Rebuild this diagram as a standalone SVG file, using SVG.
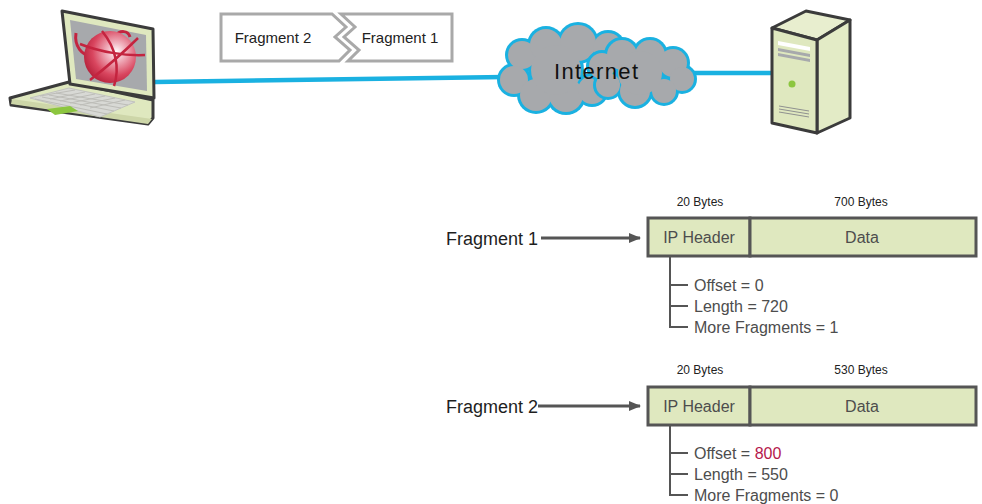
<svg xmlns="http://www.w3.org/2000/svg" width="982" height="504" viewBox="0 0 982 504">
  <defs>
    <radialGradient id="sphere" cx="0.62" cy="0.4" r="0.65">
      <stop offset="0" stop-color="#ffffff"/>
      <stop offset="0.25" stop-color="#f2b8c4"/>
      <stop offset="0.7" stop-color="#d9465f"/>
      <stop offset="1" stop-color="#b8233d"/>
    </radialGradient>
    <marker id="arrow" viewBox="0 0 12 10" refX="11" refY="5" markerWidth="12" markerHeight="10" markerUnits="userSpaceOnUse" orient="auto">
      <path d="M0,0 L12,5 L0,10 Z" fill="#555"/>
    </marker>
  </defs>
  <style>
    .sans { font-family: "Liberation Sans", Arial, sans-serif; }
    .wire { stroke: #1ab1e1; stroke-width: 4.5; fill: none; }
    .frag { fill: #fff; stroke: #a9a9a9; stroke-width: 3; }
    .cloud-edge { fill: #1ab1e1; }
    .cloud-fill { fill: #a7a9ac; }
    .hw { stroke: #3b3b3b; stroke-width: 3; stroke-linejoin: round; }
    .cell { fill: #dfe8bf; stroke: #555; stroke-width: 3; }
    .cell-text { font-size: 16px; fill: #4d4d4d; text-anchor: middle; }
    .bytes { font-size: 12px; fill: #222; text-anchor: middle; }
    .label { font-size: 18px; fill: #1e1e1e; }
    .tree { stroke: #555; stroke-width: 2; fill: none; }
    .field { font-size: 16px; fill: #4d4d4d; }
    .link { stroke: #555; stroke-width: 3; fill: none; }
  </style>

  <rect width="982" height="504" fill="#fff"/>

  <!-- network wires -->
  <g id="connectors">
    <path class="wire" d="M155,82 L505,77"/>
    <path class="wire" d="M688,73 L772,73"/>
    <path class="link" d="M541,238 H640" marker-end="url(#arrow)"/>
    <path class="link" d="M538,406 H640" marker-end="url(#arrow)"/>
  </g>

  <!-- laptop -->
  <g id="laptop">
    <polygon class="hw" points="10,98 69,82 153,100 153,118 148,124 11,105" fill="#dfe8bf"/>
    <polygon points="11,104 148,124 152,119 12,99" fill="#cdd6a8"/>
    <polygon points="30,98 69,88 135,102 100,117" fill="#d8d9d5" stroke="#c2c3bf" stroke-width="1"/>
    <g stroke="#bdbdb8" stroke-width="1">
      <path d="M35,99 L107,114 M42,97 L114,111 M49,95 L121,108 M56,93 L128,105"/>
      <path d="M40,96 L75,90 M50,99 L85,92 M60,101 L95,94 M70,103 L105,96 M80,105 L115,98 M90,108 L125,100"/>
    </g>
    <polygon points="47,109 70,106 78,111 55,115" fill="#8cc63f"/>
    <polygon class="hw" points="62,11 153,29 154,98 70,84" fill="#dfe8bf"/>
    <polygon points="70,20 146,35 147,91 76,79" fill="#a7a9ac"/>
    <g id="globe">
      <path d="M76,33 C74,46 82,56 92,56" stroke="#c4243f" stroke-width="3" fill="none"/>
      <path d="M115,36 C120,30 128,30 130,37" stroke="#c4243f" stroke-width="3" fill="none"/>
      <circle cx="110" cy="57" r="26" fill="url(#sphere)"/>
      <path d="M80,44 C100,52 125,56 145,55" stroke="#c4243f" stroke-width="2.5" fill="none"/>
      <path d="M102,31 C116,48 120,68 114,86" stroke="#c4243f" stroke-width="2.5" fill="none"/>
      <path d="M90,80 C108,66 126,50 138,38" stroke="#c4243f" stroke-width="2.5" fill="none"/>
    </g>
  </g>

  <!-- fragment banner -->
  <g id="fragment-banner">
    <path class="frag" d="M221,14 H332 L346,27 L335,37 L350,50 L339,61 H221 Z"/>
    <path class="frag" d="M341,14 H452 V61 H348 L359,50 L344,37 L355,27 Z"/>
    <text class="sans" x="273" y="43" font-size="15" fill="#222" text-anchor="middle">Fragment 2</text>
    <text class="sans" x="400" y="43" font-size="15" fill="#222" text-anchor="middle">Fragment 1</text>
  </g>

  <!-- internet cloud -->
  <g id="internet">
    <g class="cloud-edge">
      <circle cx="522" cy="55" r="17"/><circle cx="546" cy="45" r="19"/><circle cx="578" cy="43" r="21"/>
      <circle cx="608" cy="48" r="18"/><circle cx="514" cy="80" r="17"/><circle cx="536" cy="95" r="19"/>
      <circle cx="566" cy="95" r="20"/><circle cx="592" cy="90" r="17"/><circle cx="556" cy="70" r="28"/>
    </g>
    <g class="cloud-fill">
      <circle cx="522" cy="55" r="14"/><circle cx="546" cy="45" r="16"/><circle cx="578" cy="43" r="18"/>
      <circle cx="608" cy="48" r="15"/><circle cx="514" cy="80" r="14"/><circle cx="536" cy="95" r="16"/>
      <circle cx="566" cy="95" r="17"/><circle cx="592" cy="90" r="14"/><circle cx="556" cy="70" r="25"/>
    </g>
    <g class="cloud-edge">
      <circle cx="602" cy="66" r="16"/><circle cx="622" cy="55" r="18"/><circle cx="650" cy="55" r="18"/>
      <circle cx="673" cy="63" r="17"/><circle cx="682" cy="79" r="15"/><circle cx="664" cy="91" r="15"/>
      <circle cx="635" cy="91" r="18"/><circle cx="608" cy="85" r="15"/><circle cx="640" cy="73" r="25"/>
    </g>
    <g class="cloud-fill">
      <circle cx="602" cy="66" r="13"/><circle cx="622" cy="55" r="15"/><circle cx="650" cy="55" r="15"/>
      <circle cx="673" cy="63" r="14"/><circle cx="682" cy="79" r="12"/><circle cx="664" cy="91" r="12"/>
      <circle cx="635" cy="91" r="15"/><circle cx="608" cy="85" r="12"/><circle cx="640" cy="73" r="22"/>
    </g>
    <text class="sans" x="596" y="79" font-size="22" fill="#111" text-anchor="middle" textLength="84">Internet</text>
  </g>

  <!-- server tower -->
  <g id="server">
    <polygon class="hw" points="772,28 806,11 850,20 817,40" fill="#e8eecf"/>
    <polygon class="hw" points="817,40 850,20 850,118 817,133" fill="#e3ebc6"/>
    <polygon class="hw" points="772,28 817,40 817,133 772,123" fill="#dfe8bf"/>
    <polygon points="778,41 810,47 810,51 778,45" fill="#fff"/>
    <polygon points="778,48 810,54 810,57 778,51" fill="#a7a9ac"/>
    <polygon points="778,53 810,59 810,62 778,56" fill="#a7a9ac"/>
    <circle cx="792" cy="84" r="3.5" fill="#8cc63f"/>
    <g stroke="#8f9190" stroke-width="1">
      <path d="M779,106 L809,111 M779,109 L809,114 M779,112 L809,117"/>
    </g>
  </g>

  <!-- fragment 1 layout -->
  <g id="fragment1">
    <text class="sans label" x="446" y="245">Fragment 1</text>
    <text class="sans bytes" x="700" y="206">20 Bytes</text>
    <text class="sans bytes" x="861" y="206">700 Bytes</text>
    <rect class="cell" x="648" y="218" width="102" height="38"/>
    <rect class="cell" x="750" y="218" width="226" height="38"/>
    <text class="sans cell-text" x="699" y="243">IP Header</text>
    <text class="sans cell-text" x="862" y="243">Data</text>
    <path class="tree" d="M670,256 V327 H688 M670,285 H688 M670,306 H688"/>
    <text class="sans field" x="694" y="291">Offset = 0</text>
    <text class="sans field" x="694" y="312">Length = 720</text>
    <text class="sans field" x="694" y="333">More Fragments = 1</text>
  </g>

  <!-- fragment 2 layout -->
  <g id="fragment2">
    <text class="sans label" x="446" y="413">Fragment 2</text>
    <text class="sans bytes" x="700" y="374">20 Bytes</text>
    <text class="sans bytes" x="861" y="374">530 Bytes</text>
    <rect class="cell" x="648" y="387" width="102" height="38"/>
    <rect class="cell" x="750" y="387" width="226" height="38"/>
    <text class="sans cell-text" x="699" y="412">IP Header</text>
    <text class="sans cell-text" x="862" y="412">Data</text>
    <path class="tree" d="M670,425 V495 H688 M670,453 H688 M670,474 H688"/>
    <text class="sans field" x="694" y="459">Offset = <tspan fill="#b5174b">800</tspan></text>
    <text class="sans field" x="694" y="480">Length = 550</text>
    <text class="sans field" x="694" y="501">More Fragments = 0</text>
  </g>
</svg>
